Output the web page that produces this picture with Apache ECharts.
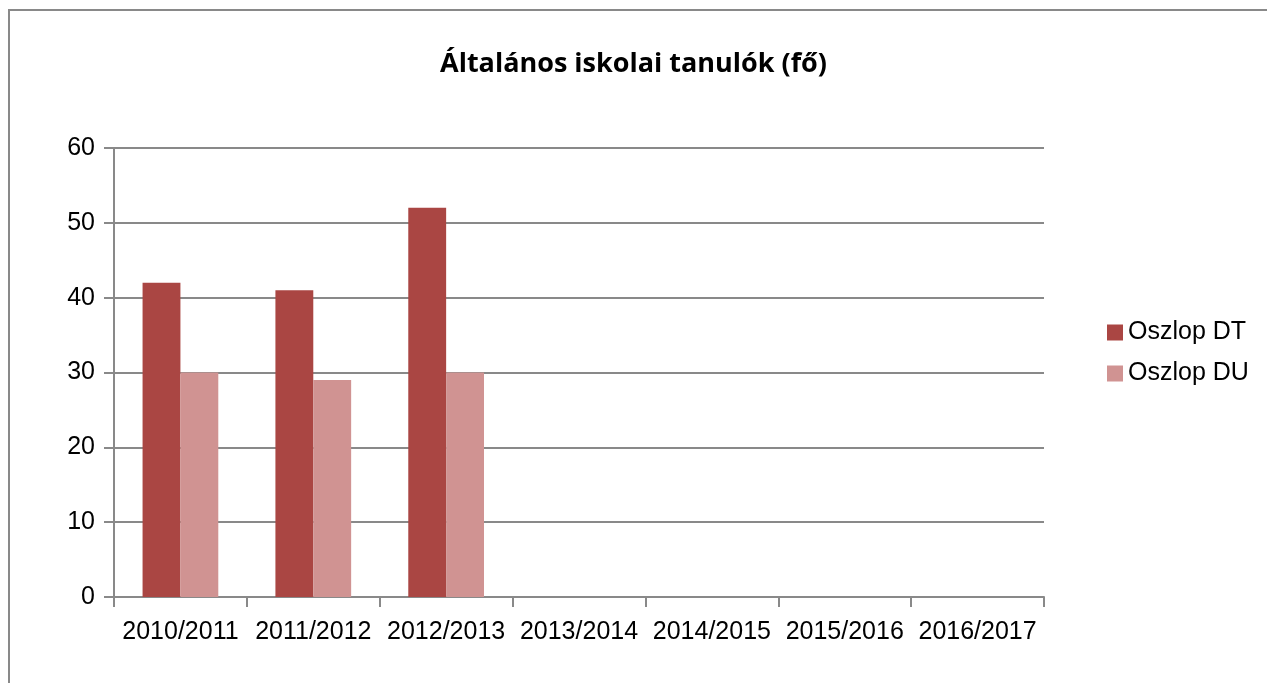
<!DOCTYPE html>
<html>
<head>
<meta charset="utf-8">
<script src="https://cdn.jsdelivr.net/npm/echarts@6/dist/echarts.min.js"></script>
<style>
  html, body { margin: 0; padding: 0; background: #fff; }
  #frame { position: absolute; left: 8px; top: 9px; width: 1259px; height: 674px;
           border-left: 2px solid #898989; border-top: 2px solid #898989; box-sizing: border-box; }
  #chart { position: absolute; left: 0; top: 0; width: 1267px; height: 683px; }
</style>
</head>
<body>
<div id="frame"></div>
<div id="chart"></div>
<script>
// school years on the x axis
const categories = ['2010/2011', '2011/2012', '2012/2013', '2013/2014', '2014/2015', '2015/2016', '2016/2017'];
const seriesNames = ['Oszlop DT', 'Oszlop DU'];
const valuesDT = [42, 41, 52, null, null, null, null];
const valuesDU = [30, 29, 30, null, null, null, null];

const gridColor = '#898989';
const chart = echarts.init(document.getElementById('chart'), null, { renderer: 'canvas' });

const option = {
  animation: false,
  title: {
    text: 'Általános iskolai tanulók (fő)',
    left: 'center',
    top: 46,
    textStyle: { fontFamily: 'Open Sans', fontWeight: 'bold', fontSize: 27, color: '#000' }
  },
  legend: {
    orient: 'vertical',
    left: 1102,
    top: 315,
    itemWidth: 16,
    itemHeight: 16,
    itemGap: 16,
    icon: 'rect',
    data: seriesNames,
    textStyle: { fontFamily: 'Liberation Sans', fontSize: 25, lineHeight: 24, color: '#000' }
  },
  grid: { left: 114, top: 148, right: 223, bottom: 86 },
  xAxis: {
    type: 'category',
    data: categories,
    boundaryGap: true,
    axisLine: { show: true, lineStyle: { color: gridColor, width: 2 } },
    axisTick: { show: true, length: 10, lineStyle: { color: gridColor, width: 2 } },
    axisLabel: { fontFamily: 'Liberation Sans', fontSize: 25, color: '#000', margin: 23, interval: 0 }
  },
  yAxis: {
    type: 'value',
    min: 0,
    max: 60,
    interval: 10,
    axisLine: { show: true, lineStyle: { color: gridColor, width: 2 } },
    axisTick: { show: true, length: 10, lineStyle: { color: gridColor, width: 2 } },
    splitLine: { show: true, lineStyle: { color: gridColor, width: 2 } },
    axisLabel: { fontFamily: 'Liberation Sans', fontSize: 25, color: '#000', margin: 19 }
  },
  series: [
    {
      name: seriesNames[0],
      type: 'bar',
      data: valuesDT,
      barGap: '0%',
      barCategoryGap: '43%',
      itemStyle: { color: '#AA4643' }
    },
    {
      name: seriesNames[1],
      type: 'bar',
      data: valuesDU,
      itemStyle: { color: '#D09392' }
    }
  ]
};

option && chart.setOption(option);
</script>
</body>
</html>
